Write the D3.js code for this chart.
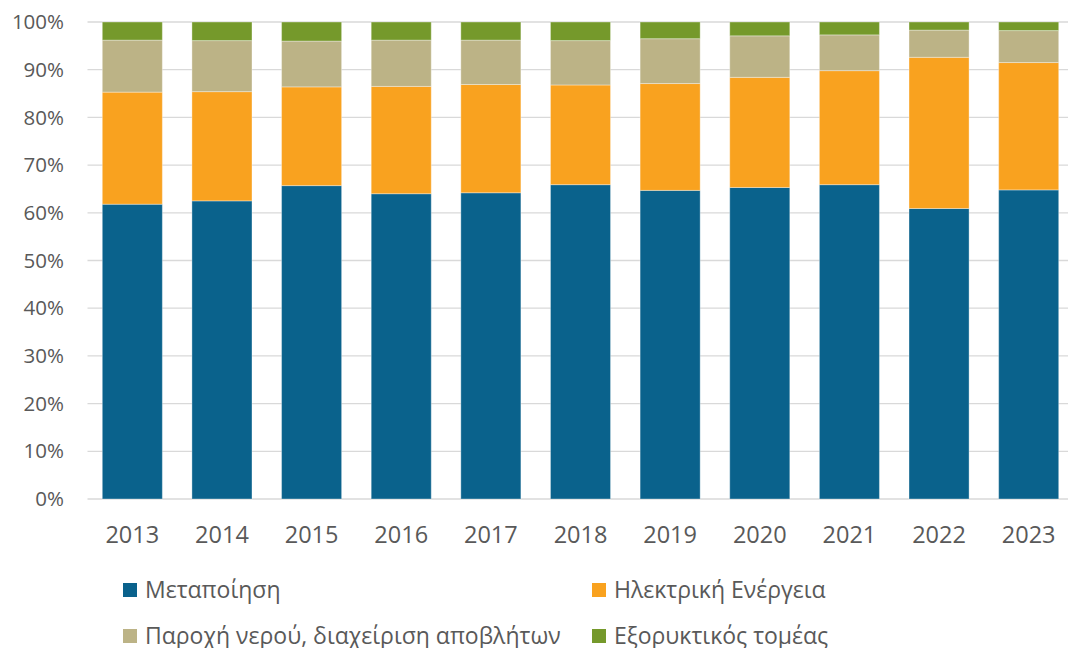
<!DOCTYPE html>
<html>
<head>
<meta charset="utf-8">
<script src="https://cdn.jsdelivr.net/npm/d3@7"></script>
<style>
body{margin:0;background:#fff;}
text{font-family:"Open Sans","Noto Sans",sans-serif;fill:#595959;}
</style>
</head>
<body>
<div id="chart"></div>
<script>
var width = 1068,
height = 648;

// data (percent of total)
var years = ["2013","2014","2015","2016","2017","2018","2019","2020","2021","2022","2023"];
var metapoiisi = [61.8,62.5,65.7,64.0,64.2,65.9,64.7,65.3,65.9,60.9,64.8];
var ilektriki = [23.5,22.9,20.7,22.5,22.7,20.9,22.4,23.1,23.9,31.7,26.7];
var nero = [10.9,10.7,9.6,9.7,9.3,9.3,9.4,8.7,7.5,5.7,6.7];
var exoryktikos = [3.8,3.9,4.0,3.8,3.8,3.9,3.5,2.9,2.7,1.7,1.8];
var seriesNames = ["Μεταποίηση","Ηλεκτρική Ενέργεια","Παροχή νερού, διαχείριση αποβλήτων","Εξορυκτικός τομέας"];
var colors = ["#0a628c","#f9a21f","#bcb386","#75992b"];
var yTicks = [0,10,20,30,40,50,60,70,80,90,100];

var keys = ["m","i","n","e"];
var rows = years.map(function(y,i){
	return {year:y, m:metapoiisi[i], i:ilektriki[i], n:nero[i], e:exoryktikos[i]};
});
var stacked = d3.stack().keys(keys)(rows);

var svg = d3.select("#chart").append("svg")
	.attr("width",width)
	.attr("height",height);

var x = d3.scaleBand().domain(years).range([87.5,1073.5]).paddingInner(0.33).paddingOuter(0.165);
var y = d3.scaleLinear().domain([0,100]).range([499,22]);

// gridlines
svg.append("g").selectAll("line")
	.data(yTicks)
	.enter().append("line")
	.attr("x1",87.5)
	.attr("x2",width)
	.attr("y1",function(d){return y(d)})
	.attr("y2",function(d){return y(d)})
	.attr("stroke","#d9d9d9")
	.attr("stroke-width",1.3);

// bars
svg.append("g").selectAll("g")
	.data(stacked)
	.enter().append("g")
	.attr("fill",function(d,i){return colors[i]})
	.selectAll("rect")
	.data(function(d){return d})
	.enter().append("rect")
	.attr("x",function(d){return x(d.data.year)})
	.attr("y",function(d){return y(d[1])})
	.attr("width",x.bandwidth())
	.attr("height",function(d){return y(d[0])-y(d[1])})
	.attr("stroke","#ffffff")
	.attr("stroke-opacity",0.35)
	.attr("stroke-width",1);

// y axis labels
svg.append("g").selectAll("text")
	.data(yTicks)
	.enter().append("text")
	.attr("x",64)
	.attr("y",function(d){return y(d)})
	.attr("dy","0.35em")
	.attr("text-anchor","end")
	.attr("font-size",20.5)
	.text(function(d){return d+"%"});

// x axis labels
svg.append("g").selectAll("text")
	.data(years)
	.enter().append("text")
	.attr("x",function(d){return x(d)+x.bandwidth()/2})
	.attr("y",535)
	.attr("dy","0.35em")
	.attr("text-anchor","middle")
	.attr("font-size",23.5)
	.text(function(d){return d});

// legend
var legPos = [[123,590],[592,590],[123,636],[592,636]];
var leg = svg.append("g").selectAll("g")
	.data(seriesNames)
	.enter().append("g")
	.attr("transform",function(d,i){return "translate("+legPos[i][0]+","+legPos[i][1]+")"});
leg.append("rect")
	.attr("x",0)
	.attr("y",-7)
	.attr("width",14)
	.attr("height",14)
	.attr("fill",function(d,i){return colors[i]});
leg.append("text")
	.attr("x",22)
	.attr("y",0)
	.attr("dy","0.35em")
	.attr("font-size",23)
	.text(function(d){return d});
</script>
</body>
</html>
